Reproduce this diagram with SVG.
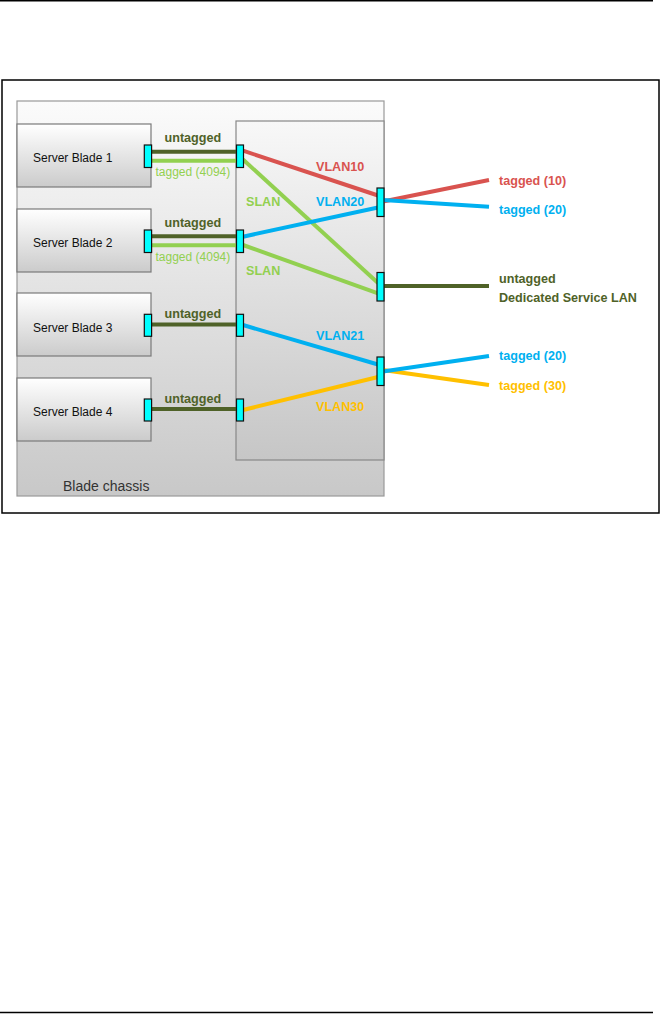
<svg xmlns="http://www.w3.org/2000/svg" width="662" height="1014" viewBox="0 0 662 1014">
<defs>
<linearGradient id="gChassis" x1="0" y1="0" x2="0" y2="1">
<stop offset="0" stop-color="#fbfbfb"/><stop offset="1" stop-color="#c8c8c8"/>
</linearGradient>
<linearGradient id="gSwitch" x1="0" y1="0" x2="0" y2="1">
<stop offset="0" stop-color="#f8f8f8"/><stop offset="1" stop-color="#c6c6c6"/>
</linearGradient>
<linearGradient id="gBlade" x1="0" y1="0" x2="0" y2="1">
<stop offset="0" stop-color="#ffffff"/><stop offset="1" stop-color="#cbcbcb"/>
</linearGradient>
</defs>
<style>
text{font-family:"Liberation Sans",Arial,sans-serif}
.bl{fill:url(#gBlade);stroke:#7a7a7a;stroke-width:1.2}
.bt{font-size:12px;fill:#111}
.port{fill:#00ffff;stroke:#111;stroke-width:1.2}
.ln{fill:none;stroke-width:4;stroke-linecap:butt}
.dk{stroke:#4f6228}.lg{stroke:#92d050}.rd{stroke:#d9534f}.bu{stroke:#00b0f0}.ye{stroke:#ffc000}
.lb{font-size:12.6px;font-weight:bold}
.tdk{fill:#4f6228}.tlg{fill:#92d050}.trd{fill:#d9534f}.tbu{fill:#00b0f0}.tye{fill:#ffc000}
</style>
<rect width="662" height="1014" fill="#ffffff"/>
<line x1="0" y1="0.7" x2="653" y2="0.7" stroke="#000" stroke-width="1.4"/>
<line x1="0" y1="1012.5" x2="653" y2="1012.5" stroke="#000" stroke-width="1.4"/>
<rect x="2" y="80" width="657" height="433" fill="#fff" stroke="#000" stroke-width="1.5"/>
<g id="chassis">
<rect x="17" y="101" width="367" height="395" fill="url(#gChassis)" stroke="#999" stroke-width="1.2"/>
<text x="63" y="491" font-size="14" fill="#333">Blade chassis</text>
</g>
<g id="switch">
<rect x="236" y="121" width="148" height="339" fill="url(#gSwitch)" stroke="#888" stroke-width="1.2"/>
</g>
<g id="blade1"><rect class="bl" x="17" y="124" width="134" height="63"/><text class="bt" x="33" y="162">Server Blade 1</text></g>
<g id="blade2"><rect class="bl" x="17" y="209" width="134" height="63"/><text class="bt" x="33" y="247">Server Blade 2</text></g>
<g id="blade3"><rect class="bl" x="17" y="293" width="134" height="63"/><text class="bt" x="33" y="332">Server Blade 3</text></g>
<g id="blade4"><rect class="bl" x="17" y="378" width="134" height="63"/><text class="bt" x="33" y="416">Server Blade 4</text></g>
<g id="connectors">
<line class="ln dk" x1="151" y1="151.7" x2="237" y2="151.7"/>
<line class="ln lg" x1="151" y1="160.7" x2="237" y2="160.7"/>
<line class="ln dk" x1="151" y1="236.3" x2="237" y2="236.3"/>
<line class="ln lg" x1="151" y1="245.3" x2="237" y2="245.3"/>
<line class="ln dk" x1="151" y1="324.5" x2="237" y2="324.5"/>
<line class="ln dk" x1="151" y1="409" x2="237" y2="409"/>
<line class="ln rd" x1="243" y1="150.7" x2="378" y2="195.5"/>
<line class="ln lg" x1="243" y1="159.5" x2="378" y2="283"/>
<line class="ln bu" x1="243" y1="236.7" x2="378" y2="207.5"/>
<line class="ln lg" x1="243" y1="245" x2="378" y2="293.3"/>
<line class="ln bu" x1="243" y1="325" x2="378" y2="364.5"/>
<line class="ln ye" x1="243" y1="410" x2="378" y2="377"/>
<line class="ln rd" x1="383" y1="201.5" x2="489" y2="180"/>
<line class="ln bu" x1="383" y1="200" x2="489" y2="206.7"/>
<line class="ln dk" x1="383" y1="286" x2="489" y2="286"/>
<line class="ln ye" x1="383" y1="370" x2="489" y2="385"/>
<line class="ln bu" x1="383" y1="371.5" x2="489" y2="356"/>
</g>
<g id="ports">
<rect class="port" x="144.3" y="145" width="7.3" height="22.5"/>
<rect class="port" x="236.5" y="145" width="7" height="22.5"/>
<rect class="port" x="144.3" y="230" width="7.3" height="22.5"/>
<rect class="port" x="236.5" y="230" width="7" height="22.5"/>
<rect class="port" x="144.3" y="314.3" width="7.3" height="22"/>
<rect class="port" x="236.5" y="314.3" width="7" height="22"/>
<rect class="port" x="144.3" y="399" width="7.3" height="22"/>
<rect class="port" x="236.5" y="399" width="7" height="22"/>
<rect class="port" x="377" y="188" width="7" height="28.5"/>
<rect class="port" x="377" y="272.5" width="7" height="28.5"/>
<rect class="port" x="377" y="357" width="7" height="28.5"/>
</g>
<g id="labels">
<text class="lb tdk" x="164.5" y="142">untagged</text>
<text class="tlg" x="155.5" y="176" font-size="12">tagged (4094)</text>
<text class="lb tdk" x="164.5" y="227">untagged</text>
<text class="tlg" x="155.5" y="261" font-size="12">tagged (4094)</text>
<text class="lb tdk" x="164.5" y="318">untagged</text>
<text class="lb tdk" x="164.5" y="403">untagged</text>
<text class="lb trd" x="316" y="170.5">VLAN10</text>
<text class="lb tbu" x="316" y="206">VLAN20</text>
<text class="lb tlg" x="246" y="206">SLAN</text>
<text class="lb tlg" x="246" y="275">SLAN</text>
<text class="lb tbu" x="316" y="340">VLAN21</text>
<text class="lb tye" x="316" y="410.5">VLAN30</text>
<text class="lb trd" x="499" y="185">tagged (10)</text>
<text class="lb tbu" x="499" y="213.5">tagged (20)</text>
<text class="lb tdk" x="499" y="283">untagged</text>
<text class="lb tdk" x="499" y="301.5">Dedicated Service LAN</text>
<text class="lb tbu" x="499" y="360">tagged (20)</text>
<text class="lb tye" x="499" y="389.5">tagged (30)</text>
</g>
</svg>
